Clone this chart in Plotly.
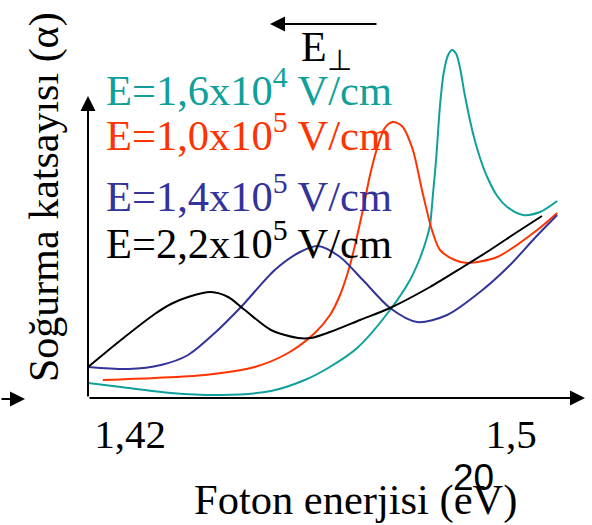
import plotly.graph_objects as go

# ---- data (photon energy in eV, absorption in arbitrary units) ----
e_16e4 = [1.4112, 1.4181, 1.4286, 1.4391, 1.4496, 1.4567, 1.4616, 1.4677, 1.4746, 1.4788,
          1.4809, 1.4822, 1.4830, 1.4836, 1.4843, 1.4851, 1.4859, 1.4868, 1.4876, 1.4885,
          1.4893, 1.4903, 1.4920, 1.4935, 1.4950, 1.4971, 1.4992, 1.5025, 1.5061, 1.5097]
a_16e4 = [0.15, 0.11, 0.05, 0.03, 0.07, 0.18, 0.30, 0.50, 0.88, 1.18,
          1.40, 1.58, 1.73, 2.03, 2.40, 2.93, 3.26, 3.43, 3.48, 3.44,
          3.30, 3.03, 2.65, 2.40, 2.21, 2.02, 1.91, 1.83, 1.86, 1.97]

e_10e5 = [1.4143, 1.4252, 1.4357, 1.4462, 1.4532, 1.4588, 1.4620, 1.4641, 1.4662, 1.4689,
          1.4704, 1.4719, 1.4735, 1.4752, 1.4771, 1.4794, 1.4813, 1.4834, 1.4851, 1.4882,
          1.4908, 1.4971, 1.5055, 1.5097]
a_10e5 = [0.18, 0.20, 0.23, 0.31, 0.45, 0.65, 0.83, 1.03, 1.33, 1.88,
          2.23, 2.50, 2.70, 2.76, 2.72, 2.48, 2.08, 1.68, 1.48, 1.38,
          1.35, 1.41, 1.68, 1.85]

e_14e5 = [1.4112, 1.4196, 1.4265, 1.4322, 1.4378, 1.4433, 1.4504, 1.4557, 1.4595, 1.4641,
          1.4689, 1.4746, 1.4803, 1.4866, 1.4935, 1.4998, 1.5050, 1.5097]
a_14e5 = [0.31, 0.29, 0.33, 0.43, 0.65, 0.91, 1.28, 1.46, 1.52, 1.41,
          1.18, 0.90, 0.76, 0.83, 1.06, 1.33, 1.60, 1.83]

e_22e5 = [1.4112, 1.4181, 1.4252, 1.4286, 1.4322, 1.4370, 1.4406, 1.4441, 1.4496, 1.4553,
          1.4580, 1.4620, 1.4683, 1.4746, 1.4830, 1.4899, 1.4956, 1.5013, 1.5065]
a_22e5 = [0.31, 0.58, 0.84, 0.94, 1.01, 1.06, 1.01, 0.88, 0.68, 0.60,
          0.60, 0.66, 0.78, 0.90, 1.11, 1.31, 1.48, 1.66, 1.82]

series_labels = ["E=1,6x10<sup>4</sup> V/cm", "E=1,0x10<sup>5</sup> V/cm",
                 "E=1,4x10<sup>5</sup> V/cm", "E=2,2x10<sup>5</sup> V/cm"]
tick_vals = [1.42, 1.5]
tick_text = ["1,42", "1,5"]

colors = ["#10A09B", "#FF3300", "#333399", "#000000"]
SERIF = "Liberation Serif"

fig = go.Figure()
for xs, ys, c in [(e_16e4, a_16e4, colors[0]), (e_10e5, a_10e5, colors[1]),
                  (e_14e5, a_14e5, colors[2]), (e_22e5, a_22e5, colors[3])]:
    fig.add_trace(go.Scatter(x=xs, y=ys, mode="lines",
                             line=dict(color=c, width=2, shape="spline", smoothing=0.8),
                             showlegend=False, hoverinfo="skip"))

W, H = 592, 525
L, R, T, B = 88, 7, 0, 127
pw, ph = W - L - R, H - T - B


def px(x):
    return (x - L) / pw


def py(y):
    return (H - B - y) / ph


ann = []
for lab, c, yc in zip(series_labels, colors, [87, 132, 193, 240]):
    ann.append(dict(x=px(104), y=py(yc), xref="paper", yref="paper", text=lab,
                    showarrow=False, xanchor="left", yanchor="middle",
                    font=dict(family=SERIF, size=42.5, color=c)))
ann.append(dict(x=1.0, y=0, xref="paper", yref="paper", text="", showarrow=True,
                ax=-pw, ay=0, axref="pixel", ayref="pixel",
                arrowhead=2, arrowsize=1.5, arrowwidth=2, arrowcolor="black"))
ann.append(dict(x=0, y=py(96), xref="paper", yref="paper", text="", showarrow=True,
                ax=0, ay=302, axref="pixel", ayref="pixel",
                arrowhead=2, arrowsize=1.5, arrowwidth=2, arrowcolor="black"))
ann.append(dict(x=px(25), y=py(399), xref="paper", yref="paper", text="", showarrow=True,
                ax=-25, ay=0, axref="pixel", ayref="pixel",
                arrowhead=2, arrowsize=1.5, arrowwidth=2, arrowcolor="black"))
ann.append(dict(x=px(270), y=py(24), xref="paper", yref="paper", text="", showarrow=True,
                ax=108, ay=0, axref="pixel", ayref="pixel",
                arrowhead=2, arrowsize=1.5, arrowwidth=2, arrowcolor="black"))
ann.append(dict(x=px(326), y=py(50), xref="paper", yref="paper", text="E<sub>⊥</sub>",
                showarrow=False, xanchor="center", yanchor="middle",
                font=dict(family=SERIF, size=42, color="black")))
ann.append(dict(x=px(44), y=py(197), xref="paper", yref="paper",
                text="Soğurma katsayısı (α)", textangle=-90, showarrow=False,
                xanchor="center", yanchor="middle",
                font=dict(family=SERIF, size=42, color="black")))
ann.append(dict(x=px(355), y=py(500), xref="paper", yref="paper",
                text="Foton enerjisi (eV)", showarrow=False,
                xanchor="center", yanchor="middle",
                font=dict(family=SERIF, size=42.5, color="black")))
ann.append(dict(x=px(473), y=py(477), xref="paper", yref="paper", text="20",
                showarrow=False, xanchor="center", yanchor="middle",
                font=dict(family="Liberation Sans", size=37, color="black")))

x_lo = 1.42 + (L - 130) * 0.08 / 381
x_hi = 1.42 + (W - R - 130) * 0.08 / 381

fig.update_layout(
    width=W, height=H, margin=dict(l=L, r=R, t=T, b=B, pad=0),
    paper_bgcolor="white", plot_bgcolor="white",
    xaxis=dict(range=[x_lo, x_hi], tickvals=tick_vals, ticktext=tick_text,
               showgrid=False, zeroline=False, showline=False, ticks="",
               tickfont=dict(family=SERIF, size=41, color="black"),
               ticklabelstandoff=8, automargin=False, fixedrange=True),
    yaxis=dict(range=[0, (H - B) / 100], visible=False, fixedrange=True),
    annotations=ann,
)

fig.write_html("out.html", config={"displayModeBar": False},
               post_script="document.body.style.margin='0';document.body.style.padding='0';")
